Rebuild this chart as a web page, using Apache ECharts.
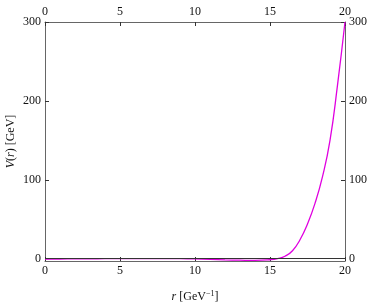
<!DOCTYPE html>
<html>
<head>
<meta charset="utf-8">
<script src="https://cdn.jsdelivr.net/npm/echarts@6/dist/echarts.min.js"></script>
<style>html,body{margin:0;padding:0;background:#fff}#c{width:372px;height:306px}</style>
</head>
<body>
<div id="c"></div>
<script>
const rValues = [0,1,2,3,4,5,6,7,8,9,10,11,12,13,14,15,15.5,16,16.5,17,17.5,18,18.5,19,19.5,20];
const vValues = [-0.6,-0.5,-0.3,-0.2,-0.1,0,0,0,0,-0.1,-0.4,-0.9,-1.5,-2.0,-2.3,-1.4,0,3,10,24,44,70,104,150,220,300];
const xTicks = [0,5,10,15,20];
const yTicks = [0,100,200,300];

const font = 'Liberation Serif';
const axisColor = '#666';
const textColor = '#111';
function xAxisCfg(pos){
  return {
    type:'value', position:pos, min:0, max:20, interval:5,
    axisLine:{show:true,onZero:false,lineStyle:{color:axisColor,width:1}},
    axisTick:{show:true,inside:true,length:4,lineStyle:{color:'#333'}},
    axisLabel:{color:textColor,fontFamily:font,fontSize:12,margin:4},
    splitLine:{show:false}
  };
}
function yAxisCfg(pos){
  return {
    type:'value', position:pos, min:-3, max:300,
    axisLine:{show:true,onZero:false,lineStyle:{color:axisColor,width:1}},
    axisTick:{show:true,inside:true,length:4,customValues:yTicks,lineStyle:{color:'#333'}},
    axisLabel:{color:textColor,fontFamily:font,fontSize:12,margin:4,customValues:yTicks},
    splitLine:{show:false}
  };
}
const xb = xAxisCfg('bottom');
xb.name = '{i|r} [GeV{sup|−1}]';
xb.nameLocation='middle'; xb.nameGap=29; xb.nameMoveOverlap=false;
xb.nameTextStyle={color:textColor,fontFamily:font,fontSize:12,rich:{i:{fontStyle:'italic',fontFamily:font,fontSize:12,color:textColor},sup:{fontSize:8,fontFamily:font,verticalAlign:'top',padding:[0,0,6,0],color:textColor}}};
const yl = yAxisCfg('left');
yl.name = '{i|V}({i|r}) [GeV]';
yl.nameLocation='middle'; yl.nameGap=28; yl.nameRotate=90; yl.nameMoveOverlap=false;
yl.nameTextStyle={color:textColor,fontFamily:font,fontSize:12,rich:{i:{fontStyle:'italic',fontFamily:font,fontSize:12,color:textColor}}};

const chart = echarts.init(document.getElementById('c'),null,{renderer:'canvas'});
chart.setOption({
  animation:false,
  grid:{left:45,right:27,top:22,bottom:45,outerBoundsMode:'none',containLabel:false},
  xAxis:[xb, xAxisCfg('top')],
  yAxis:[yl, yAxisCfg('right')],
  series:[{
    type:'line', xAxisIndex:0, yAxisIndex:0,
    data: rValues.map((r,i)=>[r,vValues[i]]),
    smooth:true, showSymbol:false,
    lineStyle:{color:'#e000e0',width:1.3},
    markLine:{silent:true,symbol:'none',label:{show:false},
      lineStyle:{color:'#333',width:1,type:'solid'},
      data:[{yAxis:0}]},
    z:3
  }]
});
</script>
</body>
</html>
